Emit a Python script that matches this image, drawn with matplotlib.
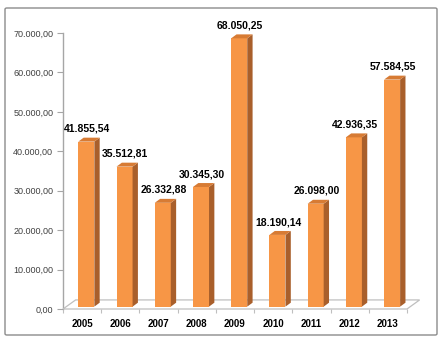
import matplotlib
matplotlib.use("Agg")
import matplotlib.pyplot as plt
from matplotlib.patches import Polygon, FancyBboxPatch
import numpy as np

# data
years = ["2005", "2006", "2007", "2008", "2009", "2010", "2011", "2012", "2013"]
values = [41855.54, 35512.81, 26332.88, 30345.30, 68050.25, 18190.14, 26098.00, 42936.35, 57584.55]
yticks = [0, 10000, 20000, 30000, 40000, 50000, 60000, 70000]

def br(v):
    # 41855.54 -> 41.855,54
    s = "{:,.2f}".format(v)
    return s.replace(",", "X").replace(".", ",").replace("X", ".")

plt.rcParams['font.family'] = ['Liberation Sans', 'DejaVu Sans']

W, H = 442, 346
fig = plt.figure(figsize=(W / 100, H / 100), dpi=100)
fig.patch.set_facecolor("white")

# outer frame of the chart area
frame = FancyBboxPatch((5 / W, 11 / H), 432 / W, 327 / H, boxstyle="round,pad=0,rounding_size=0.004",
                       transform=fig.transFigure, fill=False, edgecolor="#8c8c8c", lw=1.0)
fig.patches.append(frame)

ax = fig.add_axes([63 / W, 37 / H, 344 / W, 276 / H])
ax.set_xlim(-0.5, 8.5)
ax.set_ylim(0, 70000)
for s in ["top", "right", "bottom"]:
    ax.spines[s].set_visible(False)
ax.spines["left"].set_color("#a6a6a6")
ax.spines["left"].set_linewidth(1.0)
ax.spines["left"].set_zorder(0)

# floor (3d look)
fdx, fdy = 0.33, 2300
floor = Polygon([(-0.5, 0), (8.5, 0), (8.5 + fdx, fdy), (-0.5 + fdx, fdy)], closed=True,
                facecolor="white", edgecolor="#bfbfbf", lw=0.9, clip_on=False, zorder=1)
ax.add_patch(floor)

# bars with side and top faces
x = np.arange(len(years))
shift, bw = 0.11, 0.42
base = 600
ddx, ddy = 0.14, 1000
front_c, side_c, top_c = "#f79646", "#a95f2b", "#d77b34"
ax.bar(x + shift, values, width=bw, bottom=base, color=front_c, zorder=3, linewidth=0)
for xi, v in zip(x, values):
    r = xi + shift + bw / 2
    l = xi + shift - bw / 2
    t = v + base
    side = Polygon([(r, base), (r + ddx, base + ddy), (r + ddx, t + ddy), (r, t)], closed=True,
                   facecolor=side_c, edgecolor="none", zorder=3, clip_on=False)
    top = Polygon([(l, t), (r, t), (r + ddx, t + ddy), (l + ddx, t + ddy)], closed=True,
                  facecolor=top_c, edgecolor="none", zorder=3, clip_on=False)
    ax.add_patch(side)
    ax.add_patch(top)
    ax.text(xi + shift + 0.02, t + ddy + 1000, br(v), ha="center", va="bottom",
            fontsize=7.5, fontweight="bold", color="black", zorder=4, clip_on=False)

# axes ticks and labels
ax.set_yticks(yticks)
ax.set_yticklabels([br(t) for t in yticks], fontsize=6.5, color="#404040")
ax.tick_params(axis="y", length=4, width=0.8, color="#a6a6a6", pad=3)
ax.set_xticks(x)
ax.set_xticklabels(years, fontsize=7, fontweight="bold", color="black")
ax.tick_params(axis="x", length=0, pad=7)
ax.set_xticks(np.arange(-0.5, 9.0, 1.0), minor=True)
ax.tick_params(axis="x", which="minor", length=3, width=0.8, color="#bfbfbf")
ax.set_facecolor("none")

fig.savefig("out.png", dpi=100, facecolor="white")
